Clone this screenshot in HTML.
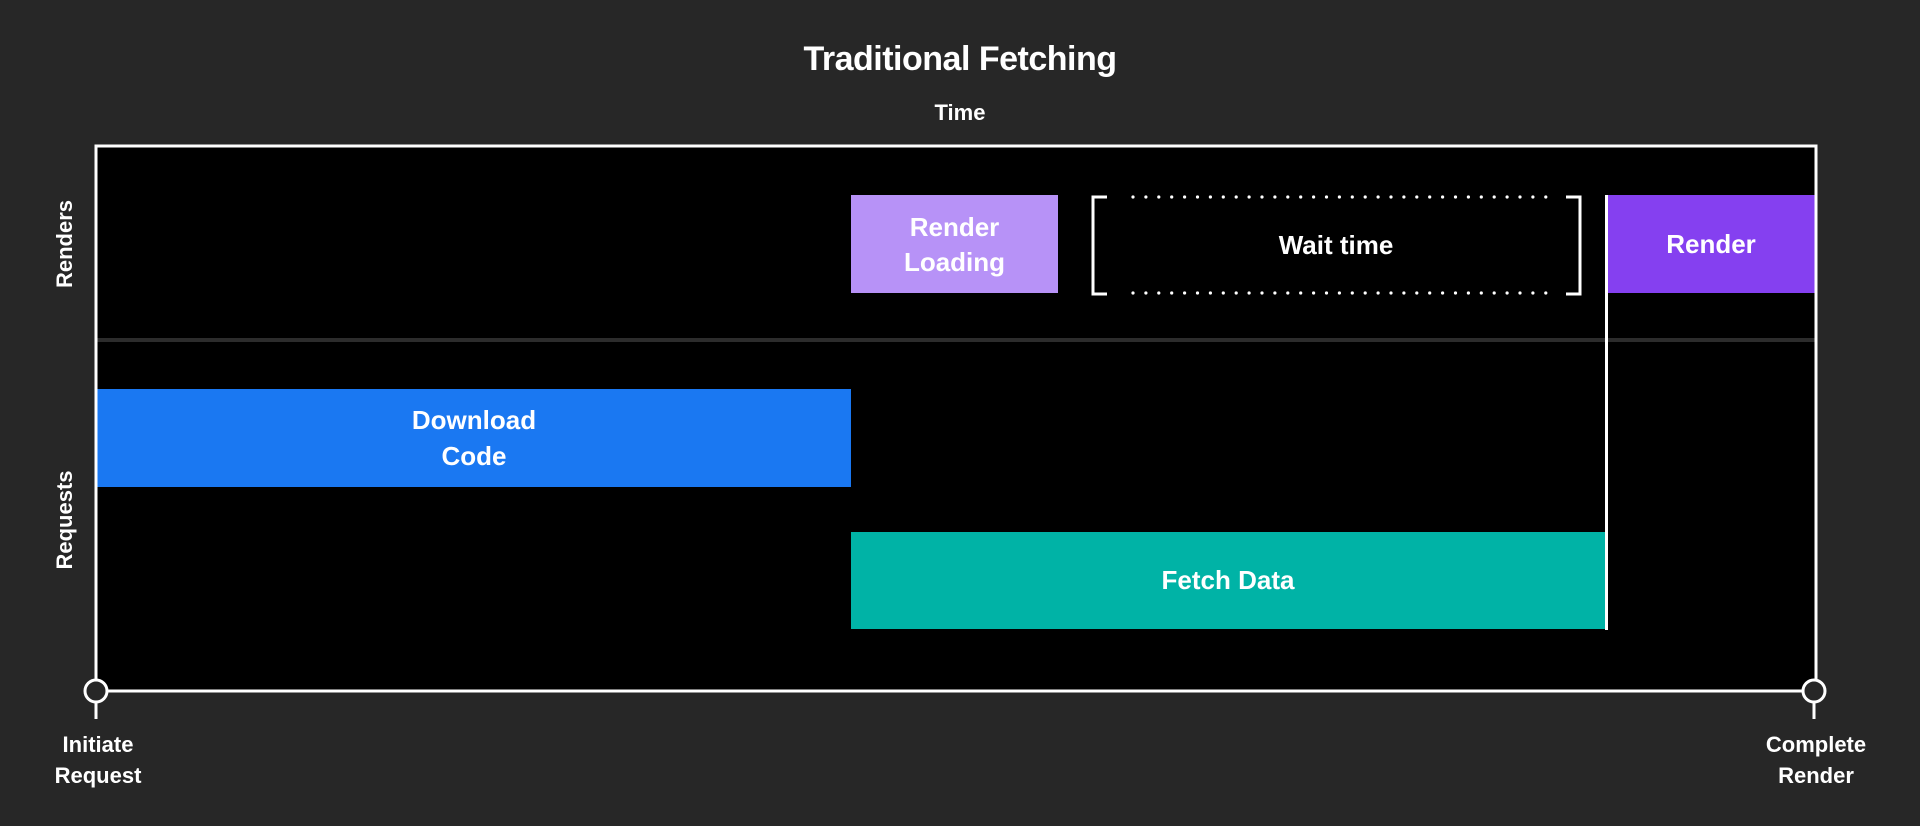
<!DOCTYPE html>
<html><head><meta charset="utf-8"><style>
html,body{margin:0;padding:0;background:#272727;}
svg{display:block}
text{font-family:"Liberation Sans",sans-serif;font-weight:bold;fill:#fff;}
</style></head><body>
<svg width="1920" height="826" viewBox="0 0 1920 826" xmlns="http://www.w3.org/2000/svg">
<rect width="1920" height="826" fill="#272727"/>
<text x="960" y="70" font-size="34" text-anchor="middle" letter-spacing="-0.5">Traditional Fetching</text>
<text x="960" y="120" font-size="22" text-anchor="middle">Time</text>
<rect x="96" y="146" width="1720" height="545" fill="#000"/>
<rect x="97" y="338" width="1718" height="4" fill="#2c2c2c"/>
<rect x="851" y="195" width="207" height="98" fill="#b792f7"/>
<text x="954.5" y="236" font-size="26" text-anchor="middle">Render</text>
<text x="954.5" y="271" font-size="26" text-anchor="middle">Loading</text>
<path d="M1107 197 H1093 V294 H1107 M1566 197 H1580 V294 H1566" fill="none" stroke="#fff" stroke-width="3"/>
<line x1="1133" y1="197" x2="1546" y2="197" stroke="#fff" stroke-width="3.2" stroke-dasharray="0 12.9" stroke-linecap="round"/>
<line x1="1133" y1="293" x2="1546" y2="293" stroke="#fff" stroke-width="3.2" stroke-dasharray="0 12.9" stroke-linecap="round"/>
<text x="1336" y="254" font-size="26" text-anchor="middle">Wait time</text>
<rect x="1606" y="195" width="210" height="98" fill="#8540f0"/>
<text x="1711" y="253" font-size="26" text-anchor="middle">Render</text>
<rect x="97" y="389" width="754" height="98" fill="#1a78f2"/>
<text x="474" y="429" font-size="26" text-anchor="middle">Download</text>
<text x="474" y="465" font-size="26" text-anchor="middle">Code</text>
<rect x="851" y="532" width="755" height="97" fill="#00b3a6"/>
<text x="1228" y="589" font-size="26" text-anchor="middle">Fetch Data</text>
<line x1="1606.5" y1="195" x2="1606.5" y2="630" stroke="#fff" stroke-width="3"/>
<path d="M96 691 V146 H1816 V691 Z" fill="none" stroke="#fff" stroke-width="3"/>
<line x1="96" y1="702" x2="96" y2="719" stroke="#fff" stroke-width="3"/>
<line x1="1814" y1="702" x2="1814" y2="719" stroke="#fff" stroke-width="3"/>
<circle cx="96" cy="691" r="11" fill="#272727" stroke="#fff" stroke-width="3"/>
<circle cx="1814" cy="691" r="11" fill="#272727" stroke="#fff" stroke-width="3"/>
<text x="98" y="752" font-size="22" text-anchor="middle">Initiate</text>
<text x="98" y="783" font-size="22" text-anchor="middle">Request</text>
<text x="1816" y="752" font-size="22" text-anchor="middle">Complete</text>
<text x="1816" y="783" font-size="22" text-anchor="middle">Render</text>
<text transform="translate(72 244) rotate(-90)" font-size="22" text-anchor="middle">Renders</text>
<text transform="translate(72 520) rotate(-90)" font-size="22" text-anchor="middle">Requests</text>
</svg>
</body></html>
